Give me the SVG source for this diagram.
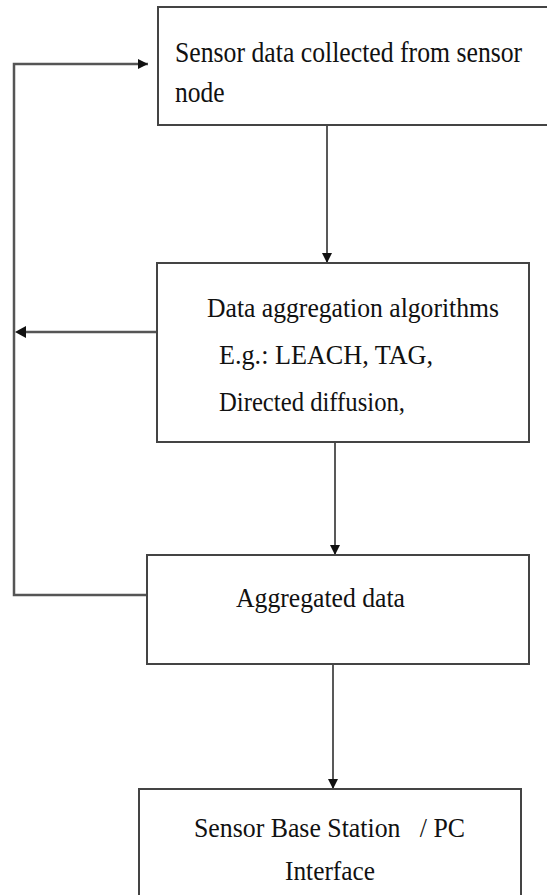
<svg xmlns="http://www.w3.org/2000/svg" width="547" height="895" viewBox="0 0 547 895">
<defs>
<marker id="ah" viewBox="0 0 10 10" refX="10" refY="5" markerWidth="10" markerHeight="10" markerUnits="userSpaceOnUse" orient="auto">
<path d="M0,0 L10,5 L0,10 z" fill="#111"/>
</marker>
</defs>
<style>
.box{fill:#fff;stroke:#444;stroke-width:2}
.t{font-family:"Liberation Serif","Times New Roman",serif;fill:#111}
.c{fill:none;stroke:#222;stroke-width:1.5}
.fb{fill:none;stroke:#555;stroke-width:2.5}
</style>
<rect width="547" height="895" fill="#fff"/>
<g id="connectors">
<path class="fb" d="M147,595 H14 V64 H148" marker-end="url(#ah)"/>
<path class="fb" d="M157,332 H25"/>
<path d="M15,332 L26,326 L26,338 z" fill="#111"/>
<path class="c" d="M327,125 V263" marker-end="url(#ah)"/>
<path class="c" d="M335,442 V555" marker-end="url(#ah)"/>
<path class="c" d="M333,664 V789" marker-end="url(#ah)"/>
</g>
<g id="n1">
<rect class="box" x="158" y="7" width="400" height="118"/>
<text class="t" transform="translate(175,62) scale(0.8,1)" x="0" y="0" font-size="30" textLength="434" lengthAdjust="spacingAndGlyphs">Sensor data collected from sensor</text>
<text class="t" transform="translate(175,102) scale(0.8,1)" x="0" y="0" font-size="30" textLength="62" lengthAdjust="spacingAndGlyphs">node</text>
</g>
<g id="n2">
<rect class="box" x="157" y="263" width="372" height="179"/>
<text class="t" x="207" y="317" font-size="28" textLength="292" lengthAdjust="spacingAndGlyphs">Data aggregation algorithms</text>
<text class="t" x="219" y="364" font-size="28" textLength="214" lengthAdjust="spacingAndGlyphs">E.g.: LEACH, TAG,</text>
<text class="t" x="219" y="411" font-size="28" textLength="186" lengthAdjust="spacingAndGlyphs">Directed diffusion,</text>
</g>
<g id="n3">
<rect class="box" x="147" y="555" width="382" height="109"/>
<text class="t" x="236" y="607" font-size="28" textLength="169" lengthAdjust="spacingAndGlyphs">Aggregated data</text>
</g>
<g id="n4">
<rect class="box" x="139" y="789" width="382" height="130"/>
<text class="t" x="194" y="837" font-size="28" textLength="271" lengthAdjust="spacingAndGlyphs" xml:space="preserve">Sensor Base Station   / PC</text>
<text class="t" x="285" y="880" font-size="28" textLength="90" lengthAdjust="spacingAndGlyphs">Interface</text>
</g>
</svg>
